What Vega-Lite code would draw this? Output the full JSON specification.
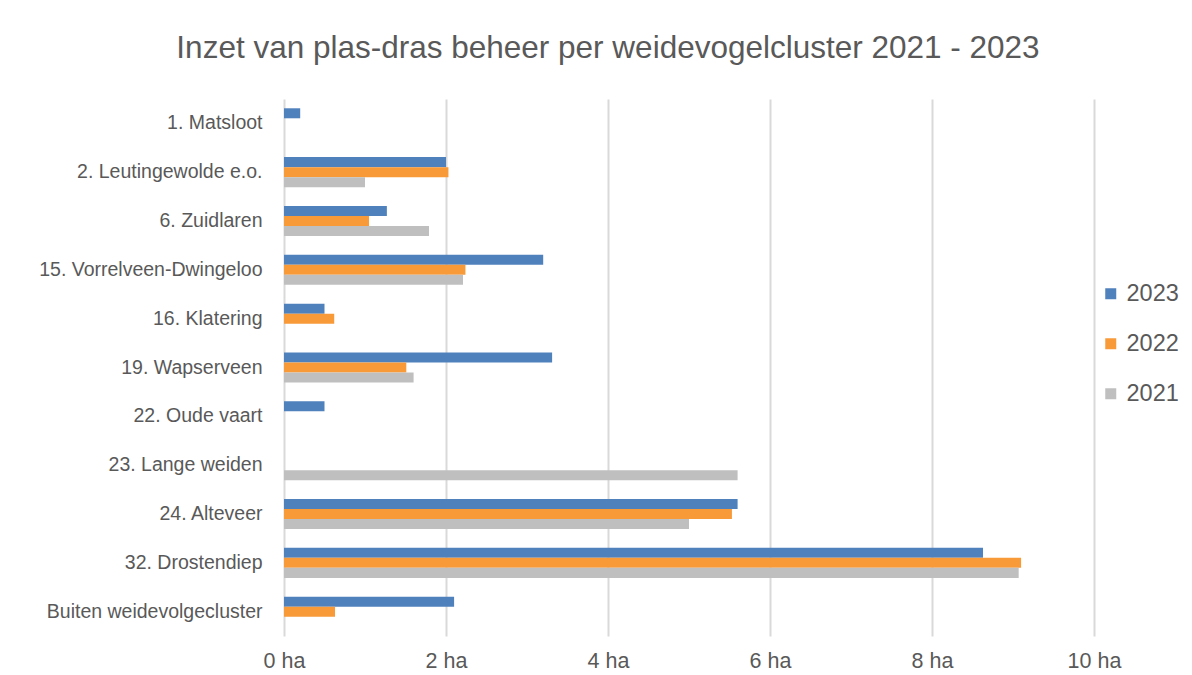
{
  "$schema": "https://vega.github.io/schema/vega-lite/v6.json",
  "width": 810,
  "height": 537,
  "autosize": {"type": "none"},
  "padding": {"left": 284, "top": 99, "right": 98, "bottom": 39},
  "background": "white",
  "title": {
    "text": "Inzet van plas-dras beheer per weidevogelcluster 2021 - 2023",
    "anchor": "middle",
    "frame": "group",
    "dx": -81,
    "offset": 35,
    "fontSize": 31.5,
    "font": "Liberation Sans",
    "fontWeight": "normal",
    "color": "#595959"
  },
  "data": {
    "values": [
      {"cluster": "1. Matsloot", "jaar": "2023", "ha": 0.2},
      {"cluster": "2. Leutingewolde e.o.", "jaar": "2023", "ha": 2.0},
      {"cluster": "2. Leutingewolde e.o.", "jaar": "2022", "ha": 2.03},
      {"cluster": "2. Leutingewolde e.o.", "jaar": "2021", "ha": 1.0},
      {"cluster": "6. Zuidlaren", "jaar": "2023", "ha": 1.27},
      {"cluster": "6. Zuidlaren", "jaar": "2022", "ha": 1.05},
      {"cluster": "6. Zuidlaren", "jaar": "2021", "ha": 1.79},
      {"cluster": "15. Vorrelveen-Dwingeloo", "jaar": "2023", "ha": 3.2},
      {"cluster": "15. Vorrelveen-Dwingeloo", "jaar": "2022", "ha": 2.24},
      {"cluster": "15. Vorrelveen-Dwingeloo", "jaar": "2021", "ha": 2.21},
      {"cluster": "16. Klatering", "jaar": "2023", "ha": 0.5},
      {"cluster": "16. Klatering", "jaar": "2022", "ha": 0.62},
      {"cluster": "19. Wapserveen", "jaar": "2023", "ha": 3.31},
      {"cluster": "19. Wapserveen", "jaar": "2022", "ha": 1.51},
      {"cluster": "19. Wapserveen", "jaar": "2021", "ha": 1.6},
      {"cluster": "22. Oude vaart", "jaar": "2023", "ha": 0.5},
      {"cluster": "23. Lange weiden", "jaar": "2021", "ha": 5.6},
      {"cluster": "24. Alteveer", "jaar": "2023", "ha": 5.6},
      {"cluster": "24. Alteveer", "jaar": "2022", "ha": 5.53},
      {"cluster": "24. Alteveer", "jaar": "2021", "ha": 5.0},
      {"cluster": "32. Drostendiep", "jaar": "2023", "ha": 8.63},
      {"cluster": "32. Drostendiep", "jaar": "2022", "ha": 9.1},
      {"cluster": "32. Drostendiep", "jaar": "2021", "ha": 9.07},
      {"cluster": "Buiten weidevolgecluster", "jaar": "2023", "ha": 2.1},
      {"cluster": "Buiten weidevolgecluster", "jaar": "2022", "ha": 0.63}
    ]
  },
  "mark": {"type": "bar"},
  "encoding": {
    "y": {
      "field": "cluster",
      "type": "nominal",
      "sort": ["1. Matsloot", "2. Leutingewolde e.o.", "6. Zuidlaren", "15. Vorrelveen-Dwingeloo", "16. Klatering", "19. Wapserveen", "22. Oude vaart", "23. Lange weiden", "24. Alteveer", "32. Drostendiep", "Buiten weidevolgecluster"],
      "scale": {"paddingInner": 0.385, "paddingOuter": 0.19},
      "axis": {
        "title": null,
        "domain": false,
        "ticks": false,
        "labelPadding": 22,
        "labelLimit": 400,
        "labelFontSize": 19.5,
        "labelFont": "Liberation Sans",
        "labelColor": "#595959"
      }
    },
    "yOffset": {
      "field": "jaar",
      "type": "nominal",
      "sort": ["2023", "2022", "2021"],
      "scale": {"domain": ["2023", "2022", "2021"]}
    },
    "x": {
      "field": "ha",
      "type": "quantitative",
      "scale": {"domain": [0, 10], "nice": false},
      "axis": {
        "title": null,
        "values": [0, 2, 4, 6, 8, 10],
        "labelExpr": "datum.value + ' ha'",
        "labelFlush": false,
        "domain": false,
        "ticks": false,
        "grid": true,
        "gridColor": "#d9d9d9",
        "gridWidth": 2,
        "labelPadding": 14,
        "labelFontSize": 21.5,
        "labelFont": "Liberation Sans",
        "labelColor": "#595959"
      }
    },
    "color": {
      "field": "jaar",
      "type": "nominal",
      "scale": {"domain": ["2023", "2022", "2021"], "range": ["#4F81BD", "#F99A38", "#BFBFBF"]},
      "legend": {
        "title": null,
        "orient": "none",
        "legendX": 815,
        "legendY": 183,
        "symbolType": "square",
        "symbolSize": 121,
        "symbolStrokeWidth": 0,
        "rowPadding": 25,
        "labelFontSize": 23.5,
        "labelFont": "Liberation Sans",
        "labelColor": "#595959",
        "labelOffset": 4
      }
    }
  },
  "config": {
    "view": {"stroke": null}
  }
}
